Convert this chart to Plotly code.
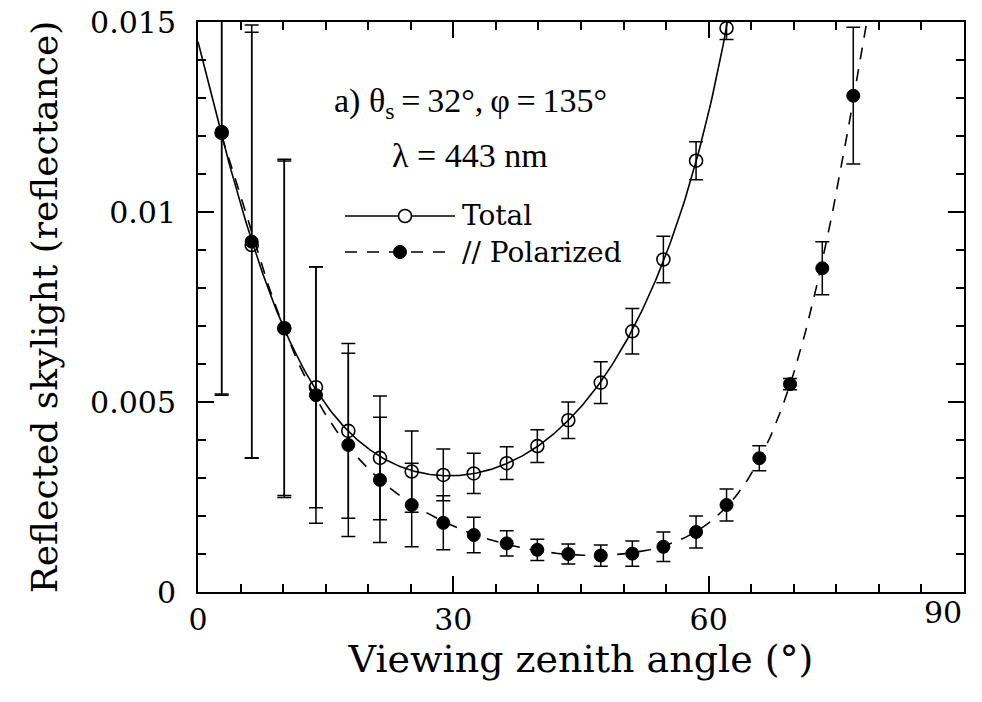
import numpy as np
import plotly.graph_objects as go

# Viewing zenith angles (deg) of the measurements
angle_total = [2.78, 6.31, 10.14, 13.86, 17.66, 21.38, 25.11, 28.82, 32.40,
               36.27, 39.87, 43.51, 47.32, 51.03, 54.68, 58.52, 62.10]
angle_pol = angle_total + [65.95, 69.56, 73.35, 76.99]

# Reflected skylight (reflectance), total radiance
refl_total = [0.01208, 0.00913, 0.00694, 0.00539, 0.00424, 0.00353, 0.00317,
              0.00308, 0.00312, 0.00339, 0.00384, 0.00452, 0.00551, 0.00686,
              0.00875, 0.01135, 0.01484]
err_total = [0.0069, 0.0056, 0.0044, 0.00317, 0.0023, 0.00163, 0.00107,
             0.00068, 0.00053, 0.00043, 0.00043, 0.00048, 0.00055, 0.00060,
             0.00061, 0.00050, 0.00030]

# Reflected skylight, parallel-polarized component
refl_pol = [0.01211, 0.00922, 0.00694, 0.00518, 0.00387, 0.00295, 0.00229,
            0.00182, 0.00150, 0.00128, 0.00111, 0.00100, 0.00096, 0.00101,
            0.00119, 0.00158, 0.00229, 0.00352, 0.00547, 0.00852, 0.01306]
err_pol = [0.0069, 0.0057, 0.00445, 0.00337, 0.00241, 0.00165, 0.00110,
           0.00071, 0.00047, 0.00033, 0.00028, 0.00026, 0.00028, 0.00033,
           0.00039, 0.00042, 0.00042, 0.00033, 0.00015, 0.00070, 0.00180]

x_ticks = [0, 30, 60, 90]
x_tick_text = ["0", "30", "60", "90"]
y_ticks = [0, 0.005, 0.01, 0.015]
y_tick_text = ["0", "0.005", "0.01", "0.015"]

SERIF = "DejaVu Serif"
TEXT_SERIF = "Liberation Serif"


def smooth_curve(x, y, deg, x_min, x_max):
    """Least-squares polynomial fit of log(reflectance), sampled densely."""
    p = np.polynomial.Polynomial.fit(np.array(x), np.log(np.array(y)), deg)
    xs = np.linspace(x_min, x_max, 400)
    return xs, np.exp(p(xs))


xt, yt = smooth_curve(angle_total, refl_total, 6, 0, 66)
xp, yp = smooth_curve(angle_pol, refl_pol, 7, angle_pol[0], 80)

fig = go.Figure()

# fitted curves
fig.add_trace(go.Scatter(x=xt, y=yt, mode="lines",
                         line=dict(color="black", width=1.6),
                         showlegend=False, hoverinfo="skip"))
fig.add_trace(go.Scatter(x=xp, y=yp, mode="lines",
                         line=dict(color="black", width=1.6, dash="12px,10px"),
                         showlegend=False, hoverinfo="skip"))

# measured points with error bars
fig.add_trace(go.Scatter(
    x=angle_pol, y=refl_pol, mode="markers", name="// Polarized",
    marker=dict(symbol="circle", size=13, color="black",
                line=dict(color="black", width=1)),
    error_y=dict(type="data", array=err_pol, visible=True,
                 color="black", thickness=1.5, width=7),
    showlegend=False))
fig.add_trace(go.Scatter(
    x=angle_total, y=refl_total, mode="markers", name="Total",
    marker=dict(symbol="circle-open", size=13, color="black",
                line=dict(color="black", width=1.6)),
    error_y=dict(type="data", array=err_total, visible=True,
                 color="black", thickness=1.5, width=7),
    showlegend=False))

# plot-area geometry (pixels) used to place the key and labels
L, R, T, B = 198, 964, 22, 592


def px(xp_):
    return (xp_ - L) / (R - L)


def py(yp_):
    return (B - yp_) / (B - T)


shapes = [
    # key: total
    dict(type="line", xref="paper", yref="paper",
         x0=px(345), x1=px(455), y0=py(216), y1=py(216),
         line=dict(color="black", width=1.6)),
    dict(type="circle", xref="paper", yref="paper",
         xsizemode="pixel", ysizemode="pixel",
         xanchor=px(405), yanchor=py(216), x0=-6.5, x1=6.5, y0=-6.5, y1=6.5,
         fillcolor="white", line=dict(color="black", width=1.6)),
    # key: polarized
    dict(type="line", xref="paper", yref="paper",
         x0=px(345), x1=px(455), y0=py(252), y1=py(252),
         line=dict(color="black", width=1.6, dash="12px,10px")),
    dict(type="circle", xref="paper", yref="paper",
         xsizemode="pixel", ysizemode="pixel",
         xanchor=px(400), yanchor=py(252), x0=-6.5, x1=6.5, y0=-6.5, y1=6.5,
         fillcolor="black", line=dict(color="black", width=1)),
]

annotations = [
    dict(text="a) θ<sub>s</sub>\u2009=\u200932°,\u2009φ\u2009=\u2009135°",
         xref="paper", yref="paper",
         x=px(470), y=py(80), showarrow=False,
         font=dict(family=TEXT_SERIF, size=34, color="black")),
    dict(text="λ = 443 nm", xref="paper", yref="paper",
         x=px(470), y=py(135), showarrow=False,
         font=dict(family=TEXT_SERIF, size=34, color="black")),
    dict(text="Total", xref="paper", yref="paper", x=px(460), y=py(216),
         xanchor="left", showarrow=False,
         font=dict(family=SERIF, size=28, color="black")),
    dict(text="// Polarized", xref="paper", yref="paper", x=px(460), y=py(252),
         xanchor="left", showarrow=False,
         font=dict(family=SERIF, size=28, color="black")),
    # last x tick label, kept inside the figure edge
    dict(text=x_tick_text[-1], xref="paper", yref="paper", x=1.0, y=0,
         xanchor="right", yanchor="top", yshift=-1, showarrow=False,
         font=dict(family=SERIF, size=30, color="black")),
]

axis_common = dict(showline=True, linecolor="black", linewidth=2,
                   mirror="allticks", ticks="inside", tickcolor="black",
                   showgrid=False, zeroline=False, automargin=False,
                   tickfont=dict(family=SERIF, size=30, color="black"))

fig.update_layout(
    width=982, height=702,
    margin=dict(l=L, r=982 - R, t=T, b=702 - B),
    paper_bgcolor="white", plot_bgcolor="white",
    showlegend=False,
    shapes=shapes, annotations=annotations,
    xaxis=dict(range=[0, 90], tickvals=x_ticks[:-1],
               ticktext=x_tick_text[:-1], ticklen=16, tickwidth=1.5,
               minor=dict(dtick=5, ticks="inside", ticklen=8,
                          tickcolor="black", tickwidth=1.5, showgrid=False),
               title=dict(text="Viewing zenith angle (°)", standoff=8,
                          font=dict(family=SERIF, size=38, color="black")),
               **axis_common),
    yaxis=dict(range=[0, 0.015], tickvals=y_ticks, ticktext=y_tick_text,
               ticklen=16, tickwidth=1.5, ticklabelstandoff=14,
               minor=dict(dtick=0.001, ticks="inside", ticklen=8,
                          tickcolor="black", tickwidth=1.5, showgrid=False),
               title=dict(text="Reflected skylight (reflectance)", standoff=22,
                          font=dict(family=SERIF, size=36, color="black")),
               **axis_common),
)

fig.write_html("out.html")
